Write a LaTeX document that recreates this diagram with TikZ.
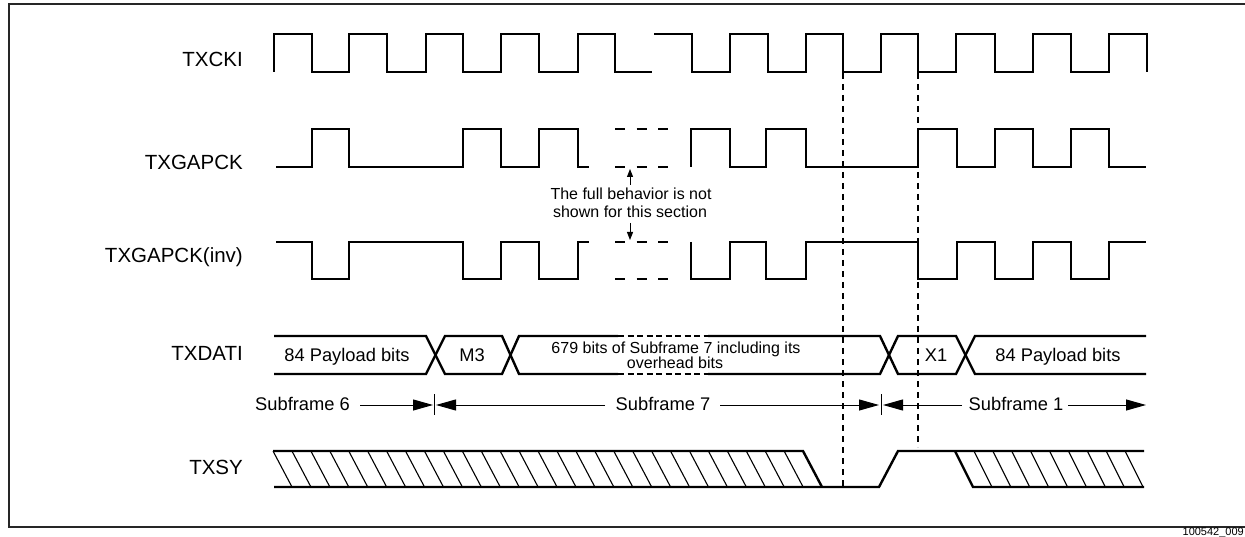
\documentclass[tikz,border=0pt]{standalone}
\usepackage{fontspec}
\setmainfont{Liberation Sans}
\usetikzlibrary{arrows.meta}
\begin{document}
\begin{tikzpicture}[x=1pt,y=-1pt,
  sig/.style={line width=2.4pt, line join=miter, line cap=butt},
  thinline/.style={line width=1pt},
  hatchline/.style={line width=1.1pt},
  vdash/.style={line width=1.5pt, dash pattern=on 6pt off 5pt},
  gapdash/.style={line width=2.4pt, dash pattern=on 10pt off 11.5pt},
  datdash/.style={line width=2pt, dash pattern=on 6pt off 3.5pt},
  lbl/.style={font=\fontsize{20.5}{24}\selectfont, anchor=base east, inner sep=0pt},
  midtxt/.style={font=\fontsize{18.3}{22}\selectfont, anchor=base, inner sep=0pt},
  smltxt/.style={font=\fontsize{16}{18}\selectfont, anchor=base, inner sep=0pt},
  bigtip/.style={-{Triangle[length=20pt,width=11pt]}},
  smalltip/.style={-{Triangle[length=8pt,width=6pt]}}]
\useasboundingbox (0,0) rectangle (1245,537);
\fill[white] (0,0) rectangle (1245,537);
% frame
\draw[line width=1.5pt, black!85] (9,4) rectangle (1270,527);
\node[font=\fontsize{11}{13}\selectfont, anchor=base east, inner sep=0pt] (fig) at (1244,535.5) {100542\_009};

% signal labels
\node[lbl] (lckI) at (243,67) {TXCKI};
\node[lbl] (lgap) at (243,170) {TXGAPCK};
\node[lbl] (linv) at (243,263) {TXGAPCK(inv)};
\node[lbl] (ldat) at (243,360) {TXDATI};
\node[lbl] (lsy) at (243,474) {TXSY};

% TXCKI
\draw[sig] (274,72) -- (274,34) -- (312,34) -- (312,72) -- (349,72) -- (349,34) -- (387,34) -- (387,72) -- (426,72) -- (426,34) -- (463,34) -- (463,72) -- (501,72) -- (501,34) -- (539,34) -- (539,72) -- (578,72) -- (578,34) -- (615,34) -- (615,72) -- (652,72);
\draw[sig] (654,34) -- (692,34) -- (692,72) -- (730,72) -- (730,34) -- (768,34) -- (768,72) -- (806,72) -- (806,34) -- (843,34) -- (843,72) -- (881,72) -- (881,34) -- (918,34) -- (918,72) -- (956,72) -- (956,34) -- (995,34) -- (995,72) -- (1033,72) -- (1033,34) -- (1071,34) -- (1071,72) -- (1109,72) -- (1109,34) -- (1147,34) -- (1147,72);

% TXGAPCK
\draw[sig] (276,167) -- (312,167) -- (312,129) -- (349,129) -- (349,167) -- (463,167) -- (463,129) -- (501,129) -- (501,167) -- (539,167) -- (539,129) -- (578,129) -- (578,167) -- (589,167);
\draw[gapdash] (615,129) -- (668,129);
\draw[gapdash] (615,167) -- (668,167);
\draw[sig] (691,167) -- (691,129) -- (730,129) -- (730,167) -- (766,167) -- (766,129) -- (806,129) -- (806,167) -- (918,167) -- (918,129) -- (957,129) -- (957,167) -- (995,167) -- (995,129) -- (1033,129) -- (1033,167) -- (1071,167) -- (1071,129) -- (1109,129) -- (1109,167) -- (1146,167);

% TXGAPCK(inv)
\draw[sig] (276,242) -- (312,242) -- (312,279) -- (349,279) -- (349,242) -- (463,242) -- (463,279) -- (501,279) -- (501,242) -- (539,242) -- (539,279) -- (578,279) -- (578,242) -- (589,242);
\draw[gapdash] (615,242) -- (668,242);
\draw[gapdash] (615,279) -- (668,279);
\draw[sig] (691,242) -- (691,279) -- (730,279) -- (730,242) -- (766,242) -- (766,279) -- (806,279) -- (806,242) -- (918,242) -- (918,279) -- (957,279) -- (957,242) -- (995,242) -- (995,279) -- (1033,279) -- (1033,242) -- (1071,242) -- (1071,279) -- (1109,279) -- (1109,242) -- (1146,242);

% note
\node[smltxt] (note1) at (631,200) {The full behavior is not};
\node[smltxt] (note2) at (630,218) {shown for this section};
\coordinate (upfrom) at (630,185);
\coordinate (upto) at (630,169);
\coordinate (dnfrom) at (630,223);
\coordinate (dnto) at (630,240);
\draw[thinline,smalltip] (upfrom) -- (upto);
\draw[thinline,smalltip] (dnfrom) -- (dnto);

% vertical dashed markers
\draw[vdash] (843,73) -- (843,487);
\draw[vdash] (918,73) -- (918,447);

% TXDATI
\draw[sig] (274,336) -- (426,336) -- (445,374) -- (502,374) -- (519,336) -- (618,336);
\draw[sig] (274,374) -- (426,374) -- (445,336) -- (502,336) -- (519,374) -- (618,374);
\draw[datdash] (618,336) -- (708,336);
\draw[datdash] (618,374) -- (708,374);
\draw[sig] (708,336) -- (880,336) -- (898,374) -- (956,374) -- (975,336) -- (1146,336);
\draw[sig] (708,374) -- (880,374) -- (898,336) -- (956,336) -- (975,374) -- (1146,374);
\node[midtxt] (pay1) at (347,361) {84 Payload bits};
\node[midtxt] (m3) at (472,361) {M3};
\node[smltxt] (sf7a) at (676,353) {679 bits of Subframe 7 including its};
\node[smltxt] (sf7b) at (675,368) {overhead bits};
\node[midtxt] (x1) at (936,361) {X1};
\node[midtxt] (pay2) at (1058,361) {84 Payload bits};

% subframe arrows
\node[midtxt, anchor=base west] (s6) at (255,410) {Subframe 6};
\node[midtxt] (s7) at (663,410) {Subframe 7};
\node[midtxt] (s1) at (1016,410) {Subframe 1};
\coordinate (a1) at (360,405);
\coordinate (t1) at (433,405);
\coordinate (t2) at (436,405);
\coordinate (a2) at (605,405);
\coordinate (a3) at (720,405);
\coordinate (t3) at (879,405);
\coordinate (t4) at (883,405);
\coordinate (a4) at (962,405);
\coordinate (a5) at (1068,405);
\coordinate (t5) at (1146,405);
\draw[thinline,bigtip] (a1) -- (t1);
\draw[thinline,bigtip] (a2) -- (t2);
\draw[thinline,bigtip] (a3) -- (t3);
\draw[thinline,bigtip] (a4) -- (t4);
\draw[thinline,bigtip] (a5) -- (t5);
\draw[thinline] (434.5,394) -- (434.5,415);
\draw[thinline] (881,394) -- (881,415);

% TXSY
\foreach \k in {0,...,27} {
  \draw[hatchline] (273+18.93*\k,451) -- (292+18.93*\k,487);
}
\draw[sig] (273,451) -- (803,451) -- (822,487);
\draw[sig] (274,487) -- (879,487) -- (898,451) -- (1144,451);
\draw[sig] (955,451) -- (973,487) -- (1144,487);
\foreach \k in {1,...,9} {
  \draw[hatchline] (955+18.9*\k,451) -- (973+18.9*\k,487);
}
\end{tikzpicture}
\end{document}
